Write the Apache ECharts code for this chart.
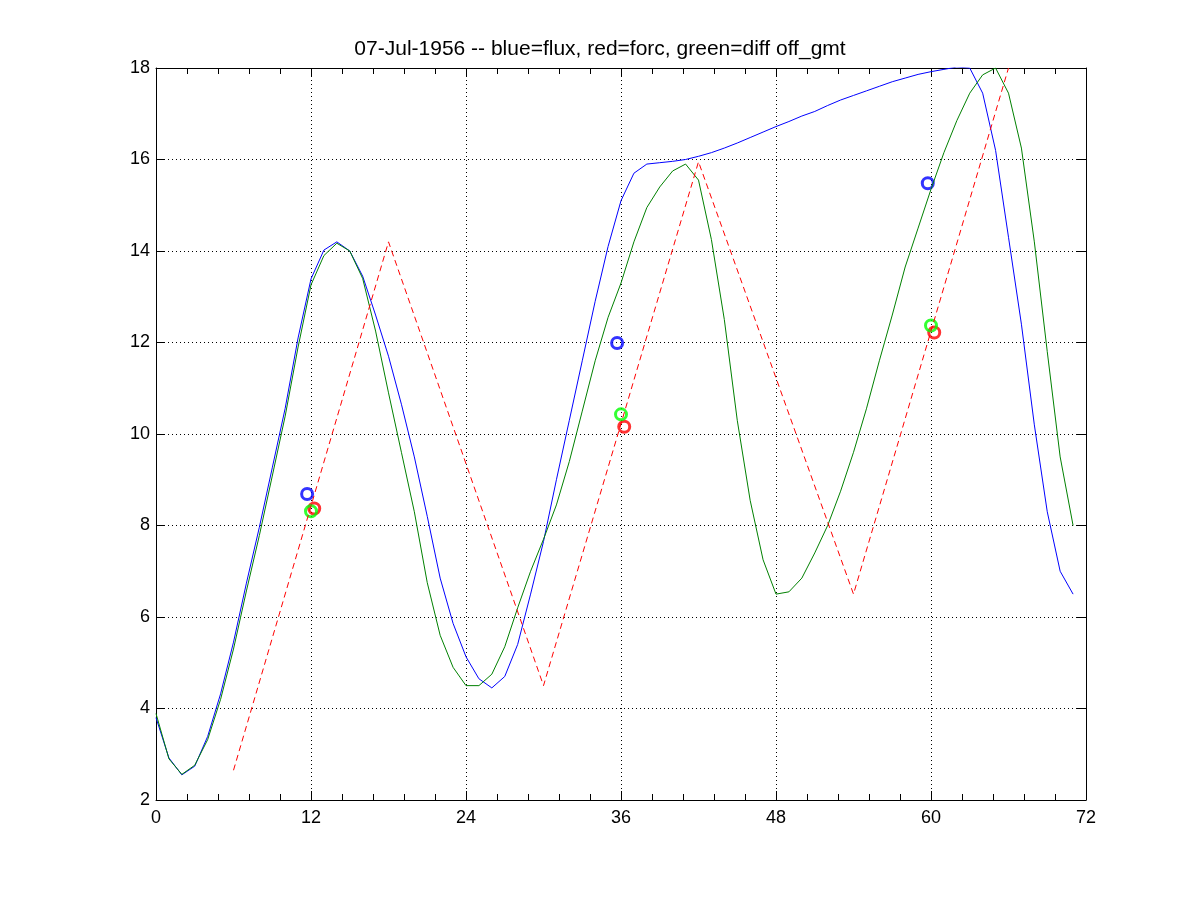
<!DOCTYPE html>
<html>
<head>
<meta charset="utf-8">
<script src="https://cdn.jsdelivr.net/npm/echarts@6/dist/echarts.min.js"></script>
<style>
html,body{margin:0;padding:0;background:#fff;}
#chart{width:1200px;height:900px;}
</style>
</head>
<body>
<div id="chart"></div>
<script>
// ---- data ----
const titleText = '07-Jul-1956 -- blue=flux, red=forc, green=diff off_gmt';
const hours = [0,1,2,3,4,5,6,7,8,9,10,11,12,13,14,15,16,17,18,19,20,21,22,23,
  24,25,26,27,28,29,30,31,32,33,34,35,36,37,38,39,40,41,42,43,44,45,46,47,
  48,49,50,51,52,53,54,55,56,57,58,59,60,61,62,63,64,65,66,67,68,69,70,71];
const flux = [3.8,2.92,2.55,2.74,3.39,4.32,5.45,6.74,7.96,9.26,10.56,12.1,
  13.39,14.02,14.2,14.0,13.45,12.6,11.7,10.65,9.5,8.2,6.85,5.86,
  5.13,4.65,4.45,4.7,5.4,6.5,7.65,9.0,10.3,11.6,12.9,14.1,
  15.1,15.7,15.9,15.93,15.96,16.0,16.07,16.15,16.25,16.36,16.48,16.6,
  16.72,16.83,16.95,17.05,17.18,17.3,17.4,17.5,17.6,17.7,17.78,17.86,
  17.92,17.97,18.02,18.0,17.45,16.2,14.3,12.4,10.2,8.3,7.0,6.5];
const diff = [3.89,2.9,2.56,2.76,3.32,4.2,5.3,6.57,7.78,9.08,10.39,11.9,
  13.26,13.9,14.17,14.0,13.4,12.25,10.9,9.6,8.3,6.75,5.6,4.9,
  4.5,4.5,4.75,5.35,6.2,7.0,7.7,8.45,9.4,10.5,11.6,12.55,
  13.3,14.2,14.95,15.4,15.75,15.9,15.55,14.25,12.5,10.3,8.55,7.25,
  6.5,6.55,6.85,7.4,8.0,8.75,9.6,10.55,11.6,12.6,13.65,14.5,
  15.35,16.15,16.85,17.45,17.85,18.0,17.45,16.25,14.2,11.8,9.5,8.0];
const forcHours = [6,18,30,42,54,66];
const forc = [2.65,14.2,4.5,15.95,6.5,18.0];
const fluxMarkX = [11.7,35.7,59.75];
const fluxMarkY = [8.69,11.99,15.48];
const forcMarkX = [12.25,36.25,60.25];
const forcMarkY = [8.37,10.16,12.22];
const diffMarkX = [12.0,36.0,60.0];
const diffMarkY = [8.31,10.43,12.37];
const xTicks = {min:0,max:72,step:12,minorStep:2.4};
const yTicks = {min:2,max:18,step:2};

// ---- build ----
const pairs = (xs, ys) => xs.map((x,i)=>[x, ys[i]]);
const FONT = 'Liberation Sans';
const black = '#000';

const chart = echarts.init(document.getElementById('chart'), null, {renderer:'canvas'});
function xAxisDef(pos, step, tickLen, showLine, labels, grid) {
  return {
    type:'value', position:pos, min:xTicks.min, max:xTicks.max, interval:step,
    axisLine:{show:showLine, onZero:false, lineStyle:{color:black, width:1}},
    axisTick:{show:true, inside:true, length:tickLen, lineStyle:{color:black, width:1}},
    axisLabel:{show:labels, color:black, fontSize:18, fontFamily:FONT, margin:9},
    splitLine:{show:grid, lineStyle:{color:black, width:1, type:[1,3]}},
    minorTick:{show:false}
  };
}
function yAxisDef(pos, labels, grid) {
  return {
    type:'value', position:pos, min:yTicks.min, max:yTicks.max, interval:yTicks.step,
    axisLine:{show:true, onZero:false, lineStyle:{color:black, width:1}},
    axisTick:{show:true, inside:true, length:9, lineStyle:{color:black, width:1}},
    axisLabel:{show:labels, color:black, fontSize:18, fontFamily:FONT, margin:6},
    splitLine:{show:grid, lineStyle:{color:black, width:1, type:[1,3]}}
  };
}
const option = {
  animation:false,
  backgroundColor:'#fff',
  title:{text:titleText, left:'center', top:34,
    textStyle:{fontFamily:FONT, fontSize:21, fontWeight:'normal', color:black}},
  grid:{left:156, top:68, width:930, height:732, containLabel:false},
  xAxis:[
    xAxisDef('bottom', xTicks.step, 9, true, true, true),
    xAxisDef('top', xTicks.step, 9, true, false, false),
    xAxisDef('bottom', xTicks.minorStep, 6, false, false, false),
    xAxisDef('top', xTicks.minorStep, 6, false, false, false)
  ],
  yAxis:[
    yAxisDef('left', true, true),
    yAxisDef('right', false, false)
  ],
  series:[
    {type:'line', name:'flux', data:pairs(hours, flux), symbol:'none', clip:true,
      lineStyle:{color:'#0000ff', width:1}},
    {type:'line', name:'diff', data:pairs(hours, diff), symbol:'none', clip:true,
      lineStyle:{color:'#008000', width:1}},
    {type:'line', name:'forc', data:pairs(forcHours, forc), symbol:'none', clip:true,
      lineStyle:{color:'#ff0000', width:1, type:[6,4]}},
    {type:'scatter', name:'fluxMark', data:pairs(fluxMarkX, fluxMarkY), symbol:'circle', symbolSize:11,
      itemStyle:{color:'rgba(0,0,0,0)', borderColor:'#0000ff', borderWidth:3}},
    {type:'scatter', name:'forcMark', data:pairs(forcMarkX, forcMarkY), symbol:'circle', symbolSize:11,
      itemStyle:{color:'rgba(0,0,0,0)', borderColor:'#ff0000', borderWidth:3}},
    {type:'scatter', name:'diffMark', data:pairs(diffMarkX, diffMarkY), symbol:'circle', symbolSize:11,
      itemStyle:{color:'rgba(0,0,0,0)', borderColor:'#00ff00', borderWidth:3}}
  ]
};
chart.setOption(option);
</script>
</body>
</html>
